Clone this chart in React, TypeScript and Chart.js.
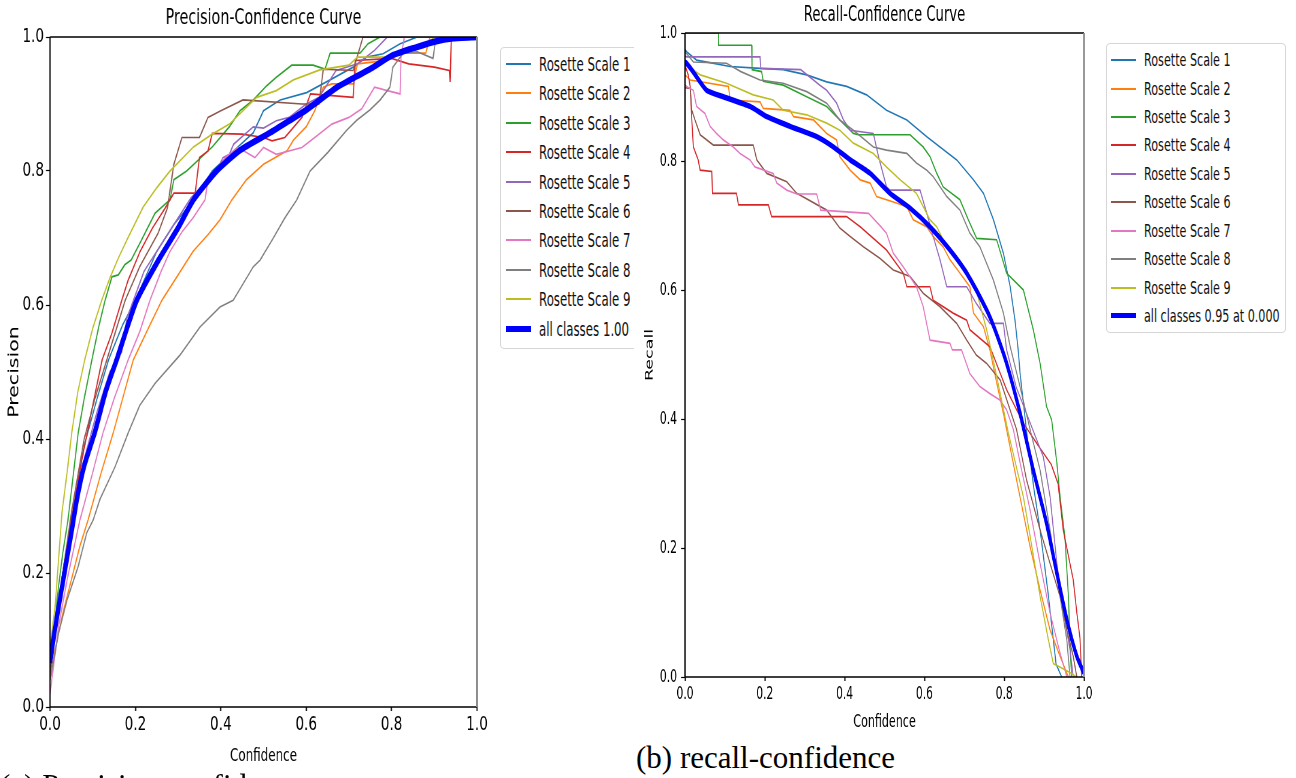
import React, { useEffect, useRef } from "react";
import { Chart, registerables } from "chart.js";

Chart.register(...registerables);

type Pt = [number, number];

const SANS = "'DejaVu Sans', 'Noto Sans', sans-serif";
const SERIF = "'Liberation Serif', 'DejaVu Serif', serif";

const seriesNames = [
  "Rosette Scale 1",
  "Rosette Scale 2",
  "Rosette Scale 3",
  "Rosette Scale 4",
  "Rosette Scale 5",
  "Rosette Scale 6",
  "Rosette Scale 7",
  "Rosette Scale 8",
  "Rosette Scale 9",
];
const seriesColors = ["#1f77b4", "#ff7f0e", "#2ca02c", "#d62728", "#9467bd", "#8c564b", "#e377c2", "#7f7f7f", "#bcbd22"];
const meanColor = "#0000ff";
const axisTicks = [0, 0.2, 0.4, 0.6, 0.8, 1.0];

const precisionMeanLabel = "all classes 1.00";
const recallMeanLabel = "all classes 0.95 at 0.000";

// ---------- Precision-Confidence ----------
const precisionScale1: Pt[] = [[0,0.05],[0.01,0.1],[0.03,0.2],[0.05,0.28],[0.08,0.39],[0.11,0.46],[0.137,0.518],[0.17,0.57],[0.2,0.607],[0.25,0.68],[0.29,0.72],[0.328,0.75],[0.38,0.8],[0.43,0.83],[0.476,0.857],[0.5,0.89],[0.539,0.906],[0.601,0.917],[0.656,0.936],[0.71,0.955],[0.742,0.97],[0.78,0.975],[0.82,0.99],[0.86,1],[1,1]];
const precisionScale2: Pt[] = [[0,0.04],[0.01,0.08],[0.03,0.14],[0.05,0.19],[0.07,0.24],[0.089,0.279],[0.12,0.35],[0.148,0.409],[0.17,0.46],[0.195,0.518],[0.23,0.565],[0.262,0.607],[0.3,0.645],[0.335,0.68],[0.37,0.705],[0.398,0.727],[0.426,0.757],[0.46,0.787],[0.5,0.81],[0.555,0.83],[0.57,0.846],[0.6,0.866],[0.62,0.89],[0.64,0.925],[0.66,0.93],[0.71,0.93],[0.72,0.96],[0.79,0.965],[0.82,0.976],[0.88,0.976],[0.89,1],[1,1]];
const precisionScale3: Pt[] = [[0,0.06],[0.01,0.12],[0.02,0.18],[0.03,0.23],[0.042,0.279],[0.066,0.409],[0.08,0.46],[0.098,0.518],[0.115,0.57],[0.129,0.607],[0.145,0.642],[0.16,0.645],[0.175,0.66],[0.19,0.667],[0.211,0.693],[0.246,0.737],[0.281,0.757],[0.29,0.787],[0.32,0.8],[0.38,0.836],[0.42,0.866],[0.445,0.89],[0.476,0.906],[0.507,0.927],[0.53,0.94],[0.566,0.958],[0.616,0.958],[0.644,0.952],[0.656,0.976],[0.726,0.976],[0.745,0.99],[0.773,1],[1,1]];
const precisionScale4: Pt[] = [[0,0.06],[0.01,0.11],[0.03,0.2],[0.05,0.28],[0.075,0.37],[0.1,0.45],[0.122,0.518],[0.145,0.558],[0.168,0.607],[0.183,0.637],[0.211,0.68],[0.24,0.715],[0.27,0.745],[0.29,0.767],[0.34,0.767],[0.35,0.82],[0.37,0.83],[0.38,0.856],[0.45,0.855],[0.5,0.85],[0.52,0.845],[0.55,0.85],[0.59,0.88],[0.61,0.915],[0.71,0.91],[0.715,0.965],[0.8,0.968],[0.84,0.96],[0.9,0.955],[0.935,0.95],[0.937,0.933],[0.94,1],[1,1]];
const precisionScale5: Pt[] = [[0,0.05],[0.01,0.1],[0.03,0.19],[0.05,0.27],[0.08,0.37],[0.11,0.44],[0.14,0.5],[0.168,0.53],[0.18,0.58],[0.22,0.65],[0.26,0.69],[0.3,0.73],[0.33,0.76],[0.36,0.78],[0.39,0.8],[0.405,0.82],[0.42,0.825],[0.43,0.84],[0.476,0.866],[0.5,0.864],[0.53,0.875],[0.56,0.88],[0.6,0.9],[0.63,0.91],[0.65,0.93],[0.67,0.95],[0.72,0.96],[0.76,0.98],[0.79,1],[1,1]];
const precisionScale6: Pt[] = [[0,0.05],[0.01,0.1],[0.03,0.2],[0.05,0.29],[0.08,0.4],[0.105,0.46],[0.133,0.518],[0.176,0.607],[0.21,0.657],[0.253,0.707],[0.275,0.745],[0.29,0.81],[0.309,0.85],[0.35,0.85],[0.36,0.865],[0.37,0.88],[0.4,0.89],[0.452,0.906],[0.59,0.9],[0.63,0.9],[0.64,0.952],[0.71,0.95],[0.733,1],[1,1]];
const precisionScale7: Pt[] = [[0,0.02],[0.01,0.07],[0.02,0.12],[0.04,0.19],[0.07,0.279],[0.1,0.35],[0.124,0.409],[0.15,0.46],[0.183,0.518],[0.21,0.56],[0.234,0.607],[0.26,0.65],[0.281,0.68],[0.31,0.71],[0.335,0.73],[0.363,0.757],[0.37,0.787],[0.39,0.8],[0.41,0.82],[0.44,0.835],[0.48,0.82],[0.5,0.835],[0.53,0.825],[0.59,0.835],[0.62,0.85],[0.66,0.87],[0.7,0.88],[0.73,0.893],[0.76,0.925],[0.79,0.92],[0.82,0.915],[0.822,0.97],[0.83,1],[1,1]];
const precisionScale8: Pt[] = [[0,0.04],[0.02,0.11],[0.04,0.16],[0.066,0.21],[0.086,0.26],[0.101,0.279],[0.117,0.31],[0.152,0.358],[0.183,0.409],[0.21,0.45],[0.246,0.483],[0.304,0.525],[0.351,0.567],[0.398,0.597],[0.429,0.607],[0.476,0.657],[0.492,0.667],[0.523,0.7],[0.55,0.73],[0.578,0.757],[0.609,0.8],[0.651,0.828],[0.695,0.861],[0.719,0.876],[0.749,0.891],[0.773,0.906],[0.796,0.925],[0.803,0.955],[0.827,0.976],[0.86,0.978],[0.897,0.968],[0.904,1],[1,1]];
const precisionScale9: Pt[] = [[0,0.09],[0.012,0.15],[0.02,0.22],[0.028,0.29],[0.04,0.35],[0.051,0.41],[0.065,0.47],[0.082,0.52],[0.1,0.565],[0.121,0.607],[0.14,0.64],[0.16,0.67],[0.18,0.697],[0.218,0.746],[0.25,0.775],[0.281,0.8],[0.336,0.836],[0.38,0.855],[0.42,0.87],[0.484,0.91],[0.53,0.92],[0.57,0.936],[0.632,0.951],[0.7,0.958],[0.72,0.97],[0.8,0.97],[0.84,0.985],[0.88,0.988],[0.9,1],[1,1]];
const precisionMean: Pt[] = [[0,0.066],[0.01,0.11],[0.023,0.16],[0.05,0.26],[0.063,0.31],[0.08,0.36],[0.105,0.41],[0.13,0.47],[0.157,0.52],[0.18,0.565],[0.203,0.607],[0.254,0.667],[0.3,0.715],[0.336,0.757],[0.39,0.8],[0.445,0.831],[0.515,0.857],[0.56,0.875],[0.6,0.891],[0.672,0.925],[0.7,0.935],[0.757,0.955],[0.8,0.972],[0.859,0.985],[0.9,0.993],[0.945,0.998],[1,1]];

// ---------- Recall-Confidence ----------
const recallScale1: Pt[] = [[0,0.975],[0.004,0.971],[0.029,0.958],[0.113,0.948],[0.188,0.945],[0.246,0.943],[0.305,0.935],[0.355,0.924],[0.405,0.917],[0.455,0.904],[0.505,0.88],[0.556,0.865],[0.606,0.839],[0.639,0.823],[0.681,0.803],[0.723,0.772],[0.748,0.751],[0.773,0.71],[0.798,0.658],[0.815,0.606],[0.827,0.554],[0.835,0.508],[0.84,0.47],[0.86,0.36],[0.875,0.29],[0.89,0.228],[0.91,0.13],[0.93,0.02],[0.944,0]];
const recallScale2: Pt[] = [[0,0.935],[0.013,0.927],[0.109,0.917],[0.113,0.896],[0.188,0.893],[0.196,0.883],[0.263,0.88],[0.272,0.87],[0.322,0.865],[0.355,0.844],[0.38,0.834],[0.388,0.808],[0.414,0.787],[0.439,0.772],[0.464,0.767],[0.48,0.746],[0.53,0.736],[0.556,0.73],[0.572,0.71],[0.606,0.699],[0.622,0.684],[0.647,0.668],[0.664,0.648],[0.689,0.627],[0.714,0.606],[0.723,0.565],[0.748,0.544],[0.764,0.508],[0.78,0.46],[0.798,0.409],[0.831,0.306],[0.865,0.202],[0.89,0.135],[0.915,0.073],[0.94,0.032],[0.961,0]];
const recallScale3: Pt[] = [[0,1],[0.084,1],[0.084,0.981],[0.167,0.981],[0.168,0.943],[0.192,0.94],[0.196,0.925],[0.246,0.919],[0.305,0.901],[0.355,0.886],[0.388,0.865],[0.422,0.844],[0.434,0.842],[0.564,0.842],[0.597,0.823],[0.614,0.808],[0.631,0.782],[0.647,0.761],[0.689,0.741],[0.71,0.71],[0.731,0.681],[0.781,0.679],[0.806,0.627],[0.848,0.601],[0.873,0.539],[0.89,0.487],[0.906,0.42],[0.919,0.399],[0.932,0.332],[0.94,0.28],[0.952,0.218],[0.961,0.125],[0.965,0.047],[0.969,0]];
const recallScale4: Pt[] = [[0,0.95],[0.008,0.935],[0.013,0.917],[0.017,0.865],[0.021,0.823],[0.033,0.803],[0.038,0.787],[0.067,0.785],[0.069,0.751],[0.129,0.751],[0.134,0.733],[0.209,0.733],[0.217,0.715],[0.405,0.715],[0.439,0.699],[0.505,0.663],[0.547,0.627],[0.556,0.606],[0.614,0.606],[0.622,0.585],[0.672,0.565],[0.706,0.554],[0.714,0.539],[0.764,0.513],[0.806,0.446],[0.848,0.394],[0.89,0.355],[0.918,0.33],[0.935,0.3],[0.948,0.228],[0.973,0.151],[0.982,0.1],[0.99,0.06],[0.994,0]];
const recallScale5: Pt[] = [[0,0.965],[0.004,0.963],[0.188,0.963],[0.19,0.945],[0.29,0.943],[0.338,0.919],[0.355,0.911],[0.38,0.891],[0.397,0.865],[0.414,0.849],[0.472,0.844],[0.485,0.808],[0.505,0.761],[0.514,0.756],[0.589,0.756],[0.606,0.72],[0.622,0.684],[0.639,0.648],[0.656,0.606],[0.706,0.606],[0.73,0.58],[0.764,0.549],[0.798,0.549],[0.806,0.508],[0.83,0.45],[0.856,0.409],[0.898,0.342],[0.915,0.28],[0.932,0.176],[0.952,0.089],[0.965,0.042],[0.973,0]];
const recallScale6: Pt[] = [[0,0.915],[0.013,0.914],[0.017,0.88],[0.025,0.865],[0.038,0.842],[0.071,0.826],[0.171,0.826],[0.18,0.803],[0.205,0.782],[0.255,0.769],[0.28,0.751],[0.355,0.725],[0.388,0.697],[0.414,0.684],[0.447,0.668],[0.489,0.65],[0.522,0.632],[0.564,0.622],[0.597,0.596],[0.639,0.575],[0.681,0.549],[0.706,0.523],[0.73,0.5],[0.756,0.487],[0.79,0.461],[0.831,0.384],[0.856,0.306],[0.89,0.228],[0.915,0.176],[0.94,0.125],[0.957,0.073],[0.973,0.032],[0.982,0]];
const recallScale7: Pt[] = [[0,0.92],[0.004,0.917],[0.021,0.911],[0.029,0.886],[0.05,0.875],[0.063,0.855],[0.079,0.844],[0.096,0.834],[0.121,0.823],[0.138,0.813],[0.163,0.803],[0.175,0.792],[0.221,0.782],[0.23,0.767],[0.255,0.756],[0.28,0.75],[0.33,0.75],[0.34,0.725],[0.46,0.72],[0.49,0.7],[0.505,0.689],[0.522,0.658],[0.547,0.637],[0.58,0.606],[0.597,0.575],[0.614,0.523],[0.664,0.518],[0.67,0.508],[0.693,0.508],[0.714,0.471],[0.739,0.451],[0.764,0.44],[0.789,0.43],[0.806,0.415],[0.823,0.384],[0.84,0.332],[0.865,0.259],[0.89,0.176],[0.915,0.099],[0.94,0.037],[0.957,0]];
const recallScale8: Pt[] = [[0,0.97],[0.004,0.968],[0.021,0.955],[0.104,0.953],[0.14,0.94],[0.188,0.927],[0.246,0.922],[0.305,0.909],[0.355,0.891],[0.388,0.865],[0.422,0.849],[0.472,0.823],[0.505,0.818],[0.556,0.813],[0.58,0.798],[0.606,0.787],[0.622,0.777],[0.656,0.746],[0.689,0.725],[0.714,0.689],[0.739,0.668],[0.773,0.616],[0.798,0.565],[0.815,0.513],[0.84,0.45],[0.865,0.384],[0.89,0.321],[0.915,0.228],[0.94,0.125],[0.957,0.057],[0.965,0]];
const recallScale9: Pt[] = [[0,0.952],[0.004,0.95],[0.038,0.935],[0.054,0.932],[0.104,0.922],[0.171,0.904],[0.221,0.896],[0.246,0.88],[0.305,0.873],[0.355,0.86],[0.388,0.849],[0.422,0.829],[0.472,0.813],[0.505,0.792],[0.539,0.772],[0.58,0.751],[0.614,0.71],[0.631,0.699],[0.656,0.668],[0.681,0.648],[0.706,0.632],[0.73,0.6],[0.756,0.539],[0.78,0.47],[0.81,0.38],[0.848,0.28],[0.87,0.2],[0.89,0.125],[0.91,0.06],[0.923,0.021],[0.95,0.012],[0.97,0.005],[0.98,0]];
const recallMean: Pt[] = [[0,0.955],[0.004,0.953],[0.02,0.94],[0.054,0.911],[0.096,0.901],[0.163,0.886],[0.205,0.87],[0.263,0.855],[0.33,0.839],[0.372,0.823],[0.414,0.803],[0.464,0.782],[0.514,0.751],[0.564,0.728],[0.614,0.699],[0.664,0.663],[0.706,0.627],[0.756,0.57],[0.777,0.539],[0.806,0.487],[0.84,0.409],[0.873,0.321],[0.906,0.239],[0.932,0.161],[0.957,0.089],[0.982,0.032],[1,0.006]];

const precisionSeries = [precisionScale1, precisionScale2, precisionScale3, precisionScale4, precisionScale5, precisionScale6, precisionScale7, precisionScale8, precisionScale9];
const recallSeries = [recallScale1, recallScale2, recallScale3, recallScale4, recallScale5, recallScale6, recallScale7, recallScale8, recallScale9];

// Horizontal sizes below are in displayed pixels; the canvas is drawn wider
// and shown squeezed by `sx` (the reference figure is horizontally compressed).
interface Spec {
  left: number;
  top: number;
  width: number;
  height: number;
  sx: number;
  title: string;
  titleSize: number;
  titlePad: { top: number; bottom: number };
  yLabel: string;
  yLabelSize: number;
  yLabelCenter: number;
  xLabelSize: number;
  xLabelPad: number;
  tickSize: number;
  xTickPad: number;
  yTickPad: number;
  yAxisWidth: number;
  xAxisHeight: number;
  padRight: number;
  lineWidth: number;
  meanWidth: number;
  series: Pt[][];
  mean: Pt[];
  meanLabel: string;
}

function makeFramePlugin(sx: number) {
  return {
    id: "frame",
    afterDatasetsDraw(chart: any) {
      const { ctx, chartArea } = chart;
      const { left, right, top, bottom } = chartArea;
      ctx.save();
      ctx.strokeStyle = "#000";
      ctx.lineWidth = 1.3;
      ctx.beginPath();
      ctx.moveTo(left, top);
      ctx.lineTo(right, top);
      ctx.moveTo(left, bottom);
      ctx.lineTo(right, bottom);
      ctx.stroke();
      ctx.lineWidth = 1.4 / sx;
      ctx.beginPath();
      ctx.moveTo(left, top);
      ctx.lineTo(left, bottom);
      ctx.stroke();
      ctx.strokeStyle = "#8c8c8c";
      ctx.lineWidth = 2 / sx;
      ctx.beginPath();
      ctx.moveTo(right, top);
      ctx.lineTo(right, bottom);
      ctx.stroke();
      ctx.restore();
    },
  };
}

function CurveChart({ spec }: { spec: Spec }) {
  const ref = useRef<HTMLCanvasElement | null>(null);
  const sx = spec.sx;
  const innerWidth = Math.round(spec.width / sx);
  useEffect(() => {
    if (!ref.current) return;
    const datasets: any[] = spec.series.map((pts, i) => ({
      label: seriesNames[i],
      data: pts.map(([x, y]) => ({ x, y })),
      borderColor: seriesColors[i],
      backgroundColor: seriesColors[i],
      borderWidth: spec.lineWidth,
      pointRadius: 0,
      fill: false,
      tension: 0,
      order: spec.series.length - i,
    }));
    datasets.push({
      label: spec.meanLabel,
      data: spec.mean.map(([x, y]) => ({ x, y })),
      borderColor: meanColor,
      backgroundColor: meanColor,
      borderWidth: spec.meanWidth,
      pointRadius: 0,
      fill: false,
      tension: 0.2,
      order: 0,
    });
    const tickFont = { family: SANS, size: spec.tickSize };
    const fixTicks = (s: any) => {
      s.ticks = axisTicks.map((v) => ({ value: v }));
    };
    const yTitleLine = spec.yLabelSize * 1.2;
    const yTitlePad = Math.max(0, spec.yLabelCenter / sx - yTitleLine / 2);
    const chart = new Chart(ref.current, {
      type: "line",
      data: { datasets },
      plugins: [makeFramePlugin(sx)],
      options: {
        animation: false,
        responsive: false,
        maintainAspectRatio: false,
        devicePixelRatio: 1,
        events: [],
        layout: { padding: 0 },
        plugins: {
          legend: { display: false },
          tooltip: { enabled: false },
          title: {
            display: true,
            text: spec.title,
            color: "#000",
            font: { family: SANS, size: spec.titleSize, weight: "normal" },
            padding: spec.titlePad,
          },
        },
        scales: {
          x: {
            type: "linear",
            min: 0,
            max: 1,
            afterBuildTicks: fixTicks,
            afterFit: (s: any) => {
              s.height = spec.xAxisHeight;
            },
            ticks: {
              color: "#000",
              font: tickFont,
              padding: spec.xTickPad,
              maxRotation: 0,
              autoSkip: false,
              callback: (v: any) => Number(v).toFixed(1),
            },
            grid: { drawOnChartArea: false, drawTicks: true, tickLength: 4, color: "#000", tickColor: "#000", tickWidth: 1.2 / sx },
            border: { display: false },
            title: {
              display: true,
              text: "Confidence",
              color: "#000",
              font: { family: SANS, size: spec.xLabelSize },
              padding: { top: 0, bottom: spec.xLabelPad },
            },
          },
          y: {
            type: "linear",
            position: "left",
            min: 0,
            max: 1,
            afterBuildTicks: fixTicks,
            afterFit: (s: any) => {
              s.width = spec.yAxisWidth / sx;
            },
            ticks: {
              color: "#000",
              font: tickFont,
              padding: spec.yTickPad / sx,
              autoSkip: false,
              callback: (v: any) => Number(v).toFixed(1),
            },
            grid: { drawOnChartArea: false, drawTicks: true, tickLength: 4 / sx, color: "#000", tickColor: "#000", tickWidth: 1.2 },
            border: { display: false },
            title: {
              display: true,
              text: spec.yLabel,
              color: "#000",
              font: { family: SANS, size: spec.yLabelSize },
              padding: { top: yTitlePad, bottom: 0 },
            },
          },
          // empty right-hand axis that only reserves the gap right of the plot,
          // so the full-width title stays centred over the plot area
          gap: {
            type: "linear",
            position: "right",
            min: 0,
            max: 1,
            display: true,
            afterFit: (s: any) => {
              s.width = spec.padRight / sx;
            },
            ticks: { display: false },
            grid: { display: false, drawTicks: false },
            border: { display: false },
            title: { display: false },
          },
        },
      } as any,
    });
    return () => chart.destroy();
  }, [spec]);
  return (
    <canvas
      ref={ref}
      width={innerWidth}
      height={spec.height}
      style={{
        position: "absolute",
        left: spec.left,
        top: spec.top,
        width: spec.width,
        height: spec.height,
        display: "block",
      }}
    />
  );
}

interface LegendSpec {
  left: number;
  top: number;
  clipWidth: number;
  boxWidth: number;
  boxHeight: number;
  firstRow: number;
  rowGap: number;
  lineLeft: number;
  textLeft: number;
  fontSize: number;
  textScale: number;
  meanLabel: string;
  meanWidth: number;
}

function Legend({ spec }: { spec: LegendSpec }) {
  const labels = [...seriesNames, spec.meanLabel];
  const colors = [...seriesColors, meanColor];
  return (
    <div
      style={{
        position: "absolute",
        left: spec.left,
        top: spec.top,
        width: spec.clipWidth,
        height: spec.boxHeight + 2,
        overflow: "hidden",
        zIndex: 2,
      }}
    >
      <div
        style={{
          position: "absolute",
          left: 0,
          top: 0,
          width: spec.boxWidth,
          height: spec.boxHeight,
          border: "1px solid #d6d6d6",
          borderRadius: 4,
          background: "#fff",
        }}
      >
        {labels.map((label, i) => {
          const center = Math.round(spec.firstRow + i * spec.rowGap);
          const thick = i === labels.length - 1 ? spec.meanWidth : 2;
          return (
            <div key={label} style={{ position: "absolute", left: 0, top: center - 14, height: 28, width: spec.boxWidth }}>
              <div
                style={{
                  position: "absolute",
                  left: spec.lineLeft,
                  top: 14 - Math.round(thick / 2),
                  width: 25,
                  height: thick,
                  background: colors[i],
                }}
              />
              <div
                style={{
                  position: "absolute",
                  left: spec.textLeft,
                  top: 0,
                  lineHeight: "28px",
                  fontSize: spec.fontSize,
                  fontFamily: SANS,
                  color: "#111",
                  whiteSpace: "nowrap",
                  transform: `scaleX(${spec.textScale})`,
                  transformOrigin: "0 50%",
                }}
              >
                {label}
              </div>
            </div>
          );
        })}
      </div>
    </div>
  );
}

const precisionSpec: Spec = {
  left: 0,
  top: 0,
  width: 527,
  height: 778,
  sx: 0.68,
  title: "Precision-Confidence Curve",
  titleSize: 21,
  titlePad: { top: 6, bottom: 5.8 },
  yLabel: "Precision",
  yLabelSize: 20.5,
  yLabelCenter: 14.5,
  xLabelSize: 17.5,
  xLabelPad: 11,
  tickSize: 20,
  xTickPad: 2,
  yTickPad: 2,
  yAxisWidth: 50,
  xAxisHeight: 71,
  padRight: 50,
  lineWidth: 1.7,
  meanWidth: 6.5,
  series: precisionSeries,
  mean: precisionMean,
  meanLabel: precisionMeanLabel,
};

const recallSpec: Spec = {
  left: 640,
  top: 0,
  width: 489,
  height: 740,
  sx: 0.6,
  title: "Recall-Confidence Curve",
  titleSize: 22,
  titlePad: { top: 2.5, bottom: 4.1 },
  yLabel: "Recall",
  yLabelSize: 17.5,
  yLabelCenter: 10,
  xLabelSize: 18.5,
  xLabelPad: 7,
  tickSize: 18,
  xTickPad: 3,
  yTickPad: 4,
  yAxisWidth: 45,
  xAxisHeight: 63,
  padRight: 45,
  lineWidth: 1.7,
  meanWidth: 5.5,
  series: recallSeries,
  mean: recallMean,
  meanLabel: recallMeanLabel,
};

const precisionLegend: LegendSpec = {
  left: 500,
  top: 47,
  clipWidth: 134,
  boxWidth: 170,
  boxHeight: 300,
  firstRow: 16,
  rowGap: 29.4,
  lineLeft: 5,
  textLeft: 38,
  fontSize: 19,
  textScale: 0.62,
  meanLabel: precisionMeanLabel,
  meanWidth: 6,
};

const recallLegend: LegendSpec = {
  left: 1106,
  top: 43,
  clipWidth: 190,
  boxWidth: 178,
  boxHeight: 288,
  firstRow: 16.3,
  rowGap: 28.4,
  lineLeft: 4,
  textLeft: 37,
  fontSize: 18,
  textScale: 0.62,
  meanLabel: recallMeanLabel,
  meanWidth: 5,
};

export default function App() {
  return (
    <div
      style={{
        position: "fixed",
        left: 0,
        top: 0,
        width: 1296,
        height: 778,
        overflow: "hidden",
        background: "#fff",
      }}
    >
      <CurveChart spec={precisionSpec} />
      <CurveChart spec={recallSpec} />
      <Legend spec={precisionLegend} />
      <Legend spec={recallLegend} />
      <div
        style={{
          position: "absolute",
          left: 636,
          top: 742,
          fontFamily: SERIF,
          fontSize: 31,
          lineHeight: "31px",
          color: "#000",
          whiteSpace: "nowrap",
        }}
      >
        (b) recall-confidence
      </div>
      <div
        style={{
          position: "absolute",
          left: 0,
          top: 770,
          fontFamily: SERIF,
          fontSize: 31,
          lineHeight: "31px",
          color: "#000",
          whiteSpace: "nowrap",
        }}
      >
        (a) Precision-confidence
      </div>
    </div>
  );
}
